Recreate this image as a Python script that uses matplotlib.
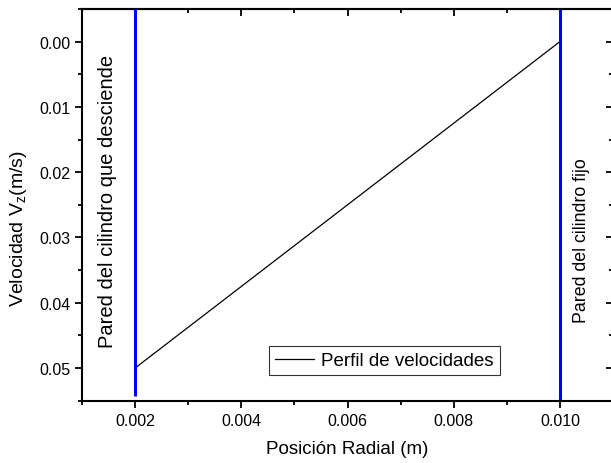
import matplotlib.pyplot as plt
from matplotlib.ticker import MultipleLocator

plt.rcParams['font.family'] = ['Liberation Sans', 'DejaVu Sans']

# velocity profile (linear between the two walls)
radio = [0.002, 0.010]
velocidad = [0.050, 0.000]

# walls
pared_x = [0.002, 0.010]
pared_y_ini = [-0.005, -0.005]
pared_y_fin = [0.0543, 0.055]

fig = plt.figure(figsize=(6.11, 4.64), dpi=100)
ax = fig.add_axes([82 / 611, 62.3 / 464, 531 / 611, 391.7 / 464])

ax.plot(radio, velocidad, color='black', lw=0.9, label='Perfil de velocidades')
for x, y0, y1 in zip(pared_x, pared_y_ini, pared_y_fin):
    ax.plot([x, x], [y0, y1], color='#0000ff', lw=2.2, solid_capstyle='butt')

ax.set_xlim(0.001, 0.011)
ax.set_ylim(0.055, -0.005)

ax.xaxis.set_major_locator(MultipleLocator(0.002))
ax.xaxis.set_minor_locator(MultipleLocator(0.001))
ax.yaxis.set_major_locator(MultipleLocator(0.01))
ax.yaxis.set_minor_locator(MultipleLocator(0.005))
ax.xaxis.set_major_formatter(plt.FuncFormatter(lambda v, p: f'{v:.3f}'))
ax.yaxis.set_major_formatter(plt.FuncFormatter(lambda v, p: f'{v:.2f}'))

ax.tick_params(which='major', direction='out', length=5, width=1.3, labelsize=11.5)
ax.tick_params(which='minor', direction='out', length=3, width=1.3)

# inward ticks on top and right
top = ax.secondary_xaxis('top')
top.xaxis.set_major_locator(MultipleLocator(0.002))
top.xaxis.set_minor_locator(MultipleLocator(0.001))
top.tick_params(which='major', direction='in', length=5, width=1.3, labeltop=False)
top.tick_params(which='minor', direction='in', length=3, width=1.3)
right = ax.secondary_yaxis('right')
right.yaxis.set_major_locator(MultipleLocator(0.01))
right.yaxis.set_minor_locator(MultipleLocator(0.005))
right.tick_params(which='major', direction='in', length=5, width=1.3, labelright=False)
right.tick_params(which='minor', direction='in', length=3, width=1.3)
for a in (ax, top, right):
    for s in a.spines.values():
        s.set_linewidth(1.5)

ax.set_xlabel('Posición Radial (m)', fontsize=13.5, va='center')
ax.xaxis.set_label_coords(0.5, -0.123)
ax.set_ylabel('Velocidad V$_\\mathregular{z}$(m/s)', fontsize=14, va='center')
ax.yaxis.set_label_coords(-0.119, 0.441)

ax.text(0.00148, 0.0244, 'Pared del cilindro que desciende', rotation=90,
        ha='center', va='center', fontsize=14.5)
ax.text(0.010415, 0.0304, 'Pared del cilindro fijo', rotation=90,
        ha='center', va='center', fontsize=12.8)

leg = ax.legend(loc='lower left', bbox_to_anchor=(0.352, 0.066), borderaxespad=0,
                fontsize=13.5, frameon=True, fancybox=False, handlelength=2.1,
                handletextpad=0.4, borderpad=0.3)
leg.get_frame().set_edgecolor('black')
leg.get_frame().set_linewidth(0.8)

fig.savefig('out.png', dpi=100)
